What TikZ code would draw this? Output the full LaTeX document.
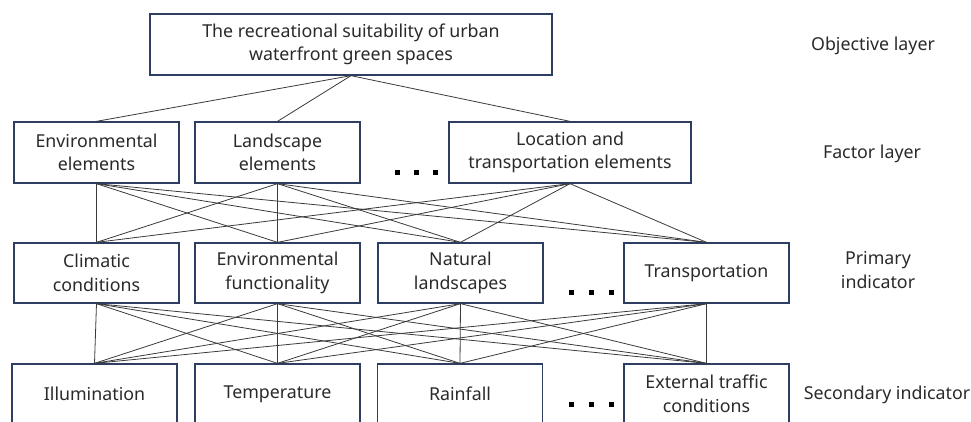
\documentclass[tikz,border=0pt]{standalone}
\usepackage{fontspec}
\setmainfont{Noto Sans}
\begin{document}
\begin{tikzpicture}[x=1pt,y=-1pt,
  box/.style={draw=boxcol, line width=1.3pt, fill=white, minimum width=165pt, minimum height=61pt, align=center, inner sep=2pt, text=txtcol, font=\fontsize{17.8}{23.5}\selectfont},
  lbl/.style={align=center, text=txtcol, font=\fontsize{17.8}{23.5}\selectfont},
  link/.style={draw=linkcol, line width=0.8pt},
  dot/.style={fill=black, minimum size=5pt, inner sep=0pt, draw=none}]
\definecolor{boxcol}{HTML}{2E3E62}
\definecolor{txtcol}{HTML}{2A2A2A}
\definecolor{linkcol}{HTML}{3A3A3A}
\useasboundingbox (0,0) rectangle (971,421);
% objective
\node[box, minimum width=402pt] (goal) at (351,44.5) {The recreational suitability of urban\\waterfront green spaces};
% factor
\node[box] (f1) at (96.5,152.5) {Environmental\\elements};
\node[box] (f2) at (277.5,152.5) {Landscape\\elements};
\node[box, minimum width=242pt] (f3) at (570,152.5) {Location and\\transportation elements};
% primary
\node[box, minimum height=60pt] (p1) at (96.5,273) {Climatic\\conditions};
\node[box, minimum height=60pt] (p2) at (277.5,273) {Environmental\\functionality};
\node[box, minimum height=60pt] (p3) at (460.5,273) {Natural\\landscapes};
\node[box, minimum height=60pt] (p4) at (706.5,273) {Transportation};
% secondary
\node[box, minimum height=60pt] (s1) at (94.5,394) {Illumination};
\node[box, minimum height=60pt] (s2) at (277.5,394) {Temperature};
\node[box, minimum height=60pt] (s3) at (460,394) {Rainfall};
\node[box, minimum height=60pt] (s4) at (706.5,394) {External traffic\\conditions};
% dots
\foreach \x [count=\i] in {397,416,435} {\node[dot] (fd\i) at (\x,172) {};}
\foreach \x [count=\i] in {571,591,611} {\node[dot] (pd\i) at (\x,292) {};}
\foreach \x [count=\i] in {571,591,611} {\node[dot] (sd\i) at (\x,404) {};}
% labels
\node[lbl] (l1) at (873,46) {Objective layer};
\node[lbl] (l2) at (872,154) {Factor layer};
\node[lbl] (l3) at (878,270) {Primary\\indicator};
\node[lbl] (l4) at (887,395) {Secondary indicator};
% links
\foreach \f in {f1,f2,f3} {\draw[link] (goal.south) -- (\f.north);}
\foreach \f in {f1,f2,f3} {\foreach \p in {p1,p2,p3,p4} {\draw[link] (\f.south) -- (\p.north);}}
\foreach \p in {p1,p2,p3,p4} {\foreach \s in {s1,s2,s3,s4} {\draw[link] (\p.south) -- (\s.north);}}
\end{tikzpicture}
\end{document}
